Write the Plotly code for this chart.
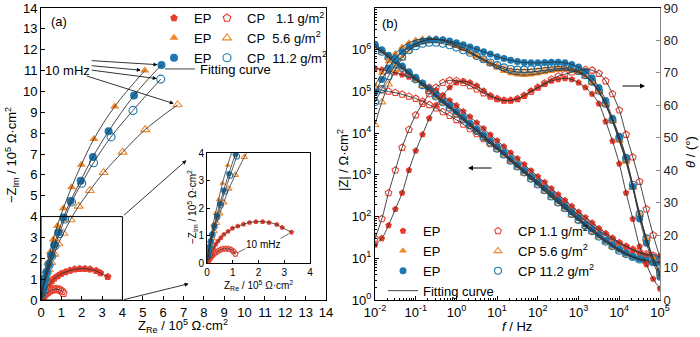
import plotly.graph_objects as go

W, H = 700, 337
def PX(p): return p / W
def PY(p): return 1 - p / H

RED, ORANGE, BLUE, FIT = "#E63E2E", "#F0872B", "#1B78B0", "#333333"
FONT = "Liberation Sans, Arial, sans-serif"

# ---------------- Nyquist data (units 1e5 ohm cm2), high -> low frequency ----------------
re_ep_red = [0.03, 0.05, 0.08, 0.11, 0.15, 0.2, 0.26, 0.34, 0.43, 0.54, 0.66, 0.82, 0.99, 1.2, 1.42, 1.65, 1.9, 2.16, 2.41, 2.71, 2.92, 3.28]
im_ep_red = [0.08, 0.13, 0.2, 0.28, 0.36, 0.45, 0.56, 0.68, 0.8, 0.92, 1.04, 1.15, 1.26, 1.34, 1.41, 1.47, 1.5, 1.5, 1.47, 1.4, 1.29, 1.12]
re_cp_red = [0.04, 0.06, 0.09, 0.13, 0.17, 0.22, 0.28, 0.35, 0.43, 0.52, 0.62, 0.73, 0.84, 0.94, 1.03, 1.1]
im_cp_red = [0.06, 0.1, 0.14, 0.19, 0.24, 0.29, 0.34, 0.39, 0.44, 0.48, 0.51, 0.52, 0.51, 0.48, 0.42, 0.33]
re_ep_orange = [0.03, 0.05, 0.08, 0.12, 0.17, 0.24, 0.33, 0.45, 0.6, 0.8, 1.1, 1.5, 1.98, 2.6, 3.62, 5.1]
im_ep_orange = [0.25, 0.38, 0.55, 0.78, 1.05, 1.4, 1.8, 2.3, 2.9, 3.55, 4.4, 5.4, 6.48, 7.72, 9.28, 11.0]
re_cp_orange = [0.06, 0.1, 0.14, 0.2, 0.28, 0.38, 0.5, 0.65, 0.85, 1.1, 1.45, 1.85, 2.4, 3.08, 4.01, 5.12, 6.71]
im_cp_orange = [0.35, 0.5, 0.68, 0.9, 1.15, 1.45, 1.8, 2.2, 2.7, 3.2, 3.85, 4.5, 5.25, 6.11, 7.09, 8.17, 9.36]
re_ep_blue = [0.04, 0.07, 0.1, 0.14, 0.2, 0.28, 0.38, 0.5, 0.65, 0.85, 1.1, 1.45, 1.95, 2.55, 3.32, 4.57, 5.92]
im_ep_blue = [0.3, 0.42, 0.6, 0.8, 1.05, 1.35, 1.72, 2.15, 2.65, 3.25, 3.95, 4.75, 5.72, 6.86, 8.09, 9.81, 11.27]
re_cp_blue = [0.04, 0.07, 0.1, 0.15, 0.21, 0.29, 0.4, 0.53, 0.69, 0.9, 1.16, 1.5, 2.0, 2.58, 3.44, 4.52, 5.88]
im_cp_blue = [0.28, 0.4, 0.57, 0.78, 1.02, 1.32, 1.68, 2.1, 2.6, 3.18, 3.88, 4.7, 5.6, 6.58, 7.82, 9.09, 10.59]

# ---------------- Bode data ----------------
freq = [0.01, 0.0147, 0.0215, 0.0316, 0.0464, 0.0681, 0.1, 0.147, 0.215, 0.316, 0.464, 0.681,
        1.0, 1.47, 2.15, 3.16, 4.64, 6.81, 10.0, 14.7, 21.5, 31.6, 46.4, 68.1,
        100, 147, 215, 316, 464, 681, 1000, 1470, 2150, 3160, 4640, 6810,
        1e4, 1.47e4, 2.15e4, 3.16e4, 4.64e4, 6.81e4, 1e5]
# log10 |Z| (ohm cm2)
logz_ep_red = [5.55, 5.52, 5.49, 5.45, 5.40, 5.35, 5.28, 5.20, 5.11, 5.02, 4.90, 4.78, 4.66, 4.52, 4.39, 4.25, 4.11, 3.96, 3.82, 3.68, 3.53, 3.39, 3.25, 3.10, 2.96, 2.82, 2.67, 2.53, 2.39, 2.25, 2.11, 1.98, 1.85, 1.72, 1.60, 1.49, 1.38, 1.29, 1.20, 1.12, 1.07, 1.04, 1.02]
logz_cp_red = [5.06, 5.03, 5.00, 4.97, 4.93, 4.88, 4.83, 4.76, 4.68, 4.60, 4.51, 4.42, 4.32, 4.21, 4.10, 3.98, 3.86, 3.74, 3.62, 3.49, 3.37, 3.24, 3.11, 2.97, 2.84, 2.70, 2.57, 2.43, 2.30, 2.16, 2.03, 1.90, 1.78, 1.66, 1.55, 1.45, 1.36, 1.28, 1.21, 1.15, 1.10, 1.07, 1.04]
logz_ep_orange = [6.08, 5.96, 5.83, 5.70, 5.57, 5.44, 5.31, 5.17, 5.04, 4.90, 4.76, 4.63, 4.49, 4.35, 4.21, 4.07, 3.93, 3.79, 3.65, 3.51, 3.36, 3.22, 3.08, 2.93, 2.79, 2.65, 2.50, 2.36, 2.22, 2.08, 1.94, 1.80, 1.67, 1.54, 1.42, 1.31, 1.20, 1.11, 1.04, 0.98, 0.94, 0.92, 0.91]
logz_cp_orange = [6.06, 5.94, 5.81, 5.68, 5.55, 5.41, 5.28, 5.14, 5.00, 4.87, 4.73, 4.59, 4.45, 4.31, 4.17, 4.03, 3.89, 3.75, 3.61, 3.47, 3.32, 3.18, 3.04, 2.89, 2.75, 2.61, 2.46, 2.32, 2.18, 2.04, 1.90, 1.77, 1.64, 1.51, 1.39, 1.28, 1.17, 1.09, 1.02, 0.96, 0.92, 0.90, 0.89]
logz_ep_blue = [6.13, 6.00, 5.87, 5.74, 5.61, 5.47, 5.34, 5.20, 5.07, 4.93, 4.79, 4.66, 4.52, 4.38, 4.24, 4.10, 3.96, 3.82, 3.68, 3.54, 3.39, 3.25, 3.11, 2.96, 2.82, 2.68, 2.53, 2.39, 2.25, 2.11, 1.97, 1.83, 1.70, 1.57, 1.44, 1.33, 1.22, 1.13, 1.05, 0.99, 0.95, 0.92, 0.91]
logz_cp_blue = [6.08, 5.95, 5.82, 5.69, 5.56, 5.42, 5.29, 5.15, 5.02, 4.88, 4.74, 4.61, 4.47, 4.33, 4.19, 4.05, 3.91, 3.77, 3.63, 3.49, 3.34, 3.20, 3.06, 2.91, 2.77, 2.63, 2.48, 2.34, 2.20, 2.06, 1.92, 1.78, 1.65, 1.52, 1.40, 1.29, 1.18, 1.10, 1.03, 0.97, 0.93, 0.91, 0.90]
# phase angle (deg)
ph_ep_red = [17, 19, 23, 28, 33, 40, 46, 51, 56, 60, 63, 65.5, 67, 67.5, 67, 66, 64.5, 63, 62, 61.5, 61.5, 62, 63, 64.5, 65.5, 66.5, 67.5, 68, 68.3, 68, 67, 65.5, 63.5, 60.5, 55, 49, 42, 33, 25, 16.5, 11, 6.5, 3.5]
ph_cp_red = [19, 25, 33, 40, 47, 52.5, 57, 60.5, 63.5, 65.5, 67, 67.7, 67.6, 67, 66, 65, 63.8, 62.8, 62, 61.5, 61.5, 62, 63, 64.2, 65.5, 66.8, 68, 69, 69.6, 70.2, 70.7, 71, 70.8, 69.8, 67.5, 63.5, 58.5, 51, 44, 36.5, 28, 20, 13]
ph_ep_orange = [66, 70, 73.5, 76, 78, 79.3, 80.1, 80.5, 80.6, 80.4, 79.9, 79.1, 78.2, 77.2, 76.1, 75, 73.8, 72.6, 71.5, 70.5, 69.8, 69.4, 69.3, 69.4, 69.7, 70.1, 70.5, 70.8, 70.9, 70.7, 70, 68.8, 66.8, 64, 60, 55, 49, 42.5, 34.5, 26, 18.5, 12.5, 7.5]
ph_cp_orange = [54, 61, 66.5, 71, 74.5, 77, 78.8, 79.8, 80.3, 80.4, 80.1, 79.5, 78.7, 77.7, 76.6, 75.4, 74.2, 73, 72, 71.2, 70.6, 70.3, 70.2, 70.3, 70.5, 70.8, 71.1, 71.3, 71.3, 71, 70.3, 69, 67, 64.2, 60.3, 55.3, 49.3, 42.8, 34.8, 26.3, 18.8, 12.8, 8]
ph_ep_blue = [64, 68, 71.5, 74.5, 76.5, 78, 79, 79.8, 80.2, 80.3, 80.2, 79.8, 79.3, 78.7, 78, 77.3, 76.5, 75.8, 75, 74.4, 73.9, 73.5, 73.2, 73.1, 73.1, 73.2, 73.3, 73.3, 73.1, 72.6, 71.8, 70.5, 68.5, 65.5, 61.5, 56, 50.5, 44, 35, 25, 17.5, 11.5, 7]
ph_cp_blue = [61, 65, 69, 72.5, 75, 77, 78.2, 79, 79.3, 79.3, 79, 78.5, 77.8, 77, 76.2, 75.2, 74.2, 73.2, 72.4, 71.7, 71.2, 71, 71, 71.1, 71.3, 71.6, 71.8, 71.9, 71.8, 71.4, 70.6, 69.3, 67.3, 64.5, 60.5, 55.5, 50, 43.5, 35.5, 26.5, 19, 13, 8.5]

x_ticks_a = list(range(0, 15))
inset_ticks = [0, 1, 2, 3, 4]
bode_x_ticks = [1e-2, 1e-1, 1e0, 1e1, 1e2, 1e3, 1e4, 1e5]
bode_x_text = ["10<sup>-2</sup>", "10<sup>-1</sup>", "10<sup>0</sup>", "10<sup>1</sup>", "10<sup>2</sup>", "10<sup>3</sup>", "10<sup>4</sup>", "10<sup>5</sup>"]
bode_y_ticks = [1e0, 1e1, 1e2, 1e3, 1e4, 1e5, 1e6, 1e7]
bode_y_text = ["10<sup>%d</sup>" % i for i in range(8)]
phase_ticks = list(range(0, 91, 10))

series = [
    # name, legend label, colour, symbol, re, im, logz, phase, filled
    ("EP", "EP", RED, "pentagon", re_ep_red, im_ep_red, logz_ep_red, ph_ep_red, True),
    ("CP 1.1", "CP\u00a0\u00a0\u00a01.1 g/m<sup>2</sup>", RED, "pentagon-open", re_cp_red, im_cp_red, logz_cp_red, ph_cp_red, False),
    ("EP", "EP", ORANGE, "triangle-up", re_ep_orange, im_ep_orange, logz_ep_orange, ph_ep_orange, True),
    ("CP 5.6", "CP\u00a0\u00a05.6 g/m<sup>2</sup>", ORANGE, "triangle-up-open", re_cp_orange, im_cp_orange, logz_cp_orange, ph_cp_orange, False),
    ("EP", "EP", BLUE, "circle", re_ep_blue, im_ep_blue, logz_ep_blue, ph_ep_blue, True),
    ("CP 11.2", "CP\u00a0\u00a011.2 g/m<sup>2</sup>", BLUE, "circle-open", re_cp_blue, im_cp_blue, logz_cp_blue, ph_cp_blue, False),
]
bode_labels = ["EP", "CP 1.1 g/m<sup>2</sup>", "EP", "CP 5.6 g/m<sup>2</sup>", "EP", "CP 11.2 g/m<sup>2</sup>"]

fig = go.Figure()

def mk(color, symbol, filled, size):
    if filled:
        return dict(color=color, symbol=symbol, size=size, line=dict(width=0))
    return dict(color=color, symbol=symbol, size=size, line=dict(width=1.1, color=color))

# Nyquist main + inset markers
for i, (nm, lab, col, sym, re, im, lz, ph, filled) in enumerate(series):
    fig.add_trace(go.Scatter(x=re, y=im, mode="markers", marker=mk(col, sym, filled, 8),
                             name=lab, legend="legend" if filled else "legend2",
                             showlegend=True, xaxis="x", yaxis="y"))
for i, (nm, lab, col, sym, re, im, lz, ph, filled) in enumerate(series):
    fig.add_trace(go.Scatter(x=re, y=im, mode="markers", marker=mk(col, sym, filled, 5.5),
                             showlegend=False, xaxis="x4", yaxis="y4"))
# Nyquist fitting curves
for i, (nm, lab, col, sym, re, im, lz, ph, filled) in enumerate(series):
    fig.add_trace(go.Scatter(x=[0] + re, y=[0] + im, mode="lines", line=dict(color=FIT, width=0.9, shape="spline"),
                             name="Fitting curve", legend="legend5", showlegend=(i == 0), xaxis="x", yaxis="y"))
    fig.add_trace(go.Scatter(x=[0] + re, y=[0] + im, mode="lines", line=dict(color=FIT, width=0.8, shape="spline"),
                             showlegend=False, xaxis="x4", yaxis="y4"))

# Bode markers
for i, (nm, lab, col, sym, re, im, lz, ph, filled) in enumerate(series):
    zvals = [10 ** v for v in lz]
    fig.add_trace(go.Scatter(x=freq, y=zvals, mode="markers", marker=mk(col, sym, filled, 7),
                             name=bode_labels[i], legend="legend3" if filled else "legend4",
                             showlegend=True, xaxis="x2", yaxis="y2"))
for i, (nm, lab, col, sym, re, im, lz, ph, filled) in enumerate(series):
    fig.add_trace(go.Scatter(x=freq, y=ph, mode="markers", marker=mk(col, sym, filled, 7),
                             showlegend=False, xaxis="x2", yaxis="y3"))
# Bode fitting curves
for i, (nm, lab, col, sym, re, im, lz, ph, filled) in enumerate(series):
    zvals = [10 ** v for v in lz]
    fig.add_trace(go.Scatter(x=freq, y=zvals, mode="lines", line=dict(color=FIT, width=0.9, shape="spline"),
                             name="Fitting curve", legend="legend3", showlegend=(i == 0), xaxis="x2", yaxis="y2"))
    fig.add_trace(go.Scatter(x=freq, y=ph, mode="lines", line=dict(color=FIT, width=0.9, shape="spline"),
                             showlegend=False, xaxis="x2", yaxis="y3"))

axcommon = dict(showline=True, linecolor="black", linewidth=1, ticks="inside", ticklen=4,
                tickcolor="black", showgrid=False, zeroline=False, automargin=False,
                tickfont=dict(size=13, color="black"))

dom_ax = [PX(41), PX(326)]
dom_y = [PY(300), PY(8)]
dom_bx = [PX(375), PX(660)]

minor_f = [m * 10 ** e for e in range(-2, 5) for m in range(2, 10)]
minor_z = [m * 10 ** e for e in range(0, 7) for m in range(2, 10)]

fig.update_layout(
    width=W, height=H, margin=dict(l=0, r=0, t=0, b=0, pad=0, autoexpand=False),
    paper_bgcolor="white", plot_bgcolor="white",
    font=dict(family=FONT, size=13, color="black"),
    xaxis=dict(domain=dom_ax, range=[0, 14], tickvals=x_ticks_a, mirror=True, anchor="y", **axcommon),
    yaxis=dict(domain=dom_y, range=[0, 14], tickvals=x_ticks_a, mirror=True, anchor="x", **axcommon),
    xaxis2=dict(domain=dom_bx, type="log", range=[-2, 5], tickvals=bode_x_ticks, ticktext=bode_x_text,
                mirror=True, anchor="y2",
                minor=dict(tickvals=minor_f, ticks="inside", ticklen=2, tickcolor="black"), **axcommon),
    yaxis2=dict(domain=dom_y, type="log", range=[0, 7], tickvals=bode_y_ticks, ticktext=bode_y_text,
                anchor="x2", minor=dict(tickvals=minor_z, ticks="inside", ticklen=2, tickcolor="black"), **axcommon),
    yaxis3=dict(domain=dom_y, range=[0, 90], tickvals=phase_ticks, overlaying="y2", side="right", anchor="x2",
                showline=True, linecolor="#8a8a8a", linewidth=1, ticks="inside", ticklen=4, tickcolor="#8a8a8a",
                showgrid=False, zeroline=False, automargin=False, tickfont=dict(size=13, color="#222")),
    xaxis4=dict(domain=[PX(207), PX(310)], range=[0, 4], tickvals=inset_ticks, mirror=True, anchor="y4",
                showline=True, linecolor="black", linewidth=1, ticks="inside", ticklen=3, tickcolor="black",
                showgrid=False, zeroline=False, automargin=False, tickfont=dict(size=10)),
    yaxis4=dict(domain=[PY(263), PY(153)], range=[0, 4], tickvals=inset_ticks, mirror=True, anchor="x4",
                showline=True, linecolor="black", linewidth=1, ticks="inside", ticklen=3, tickcolor="black",
                showgrid=False, zeroline=False, automargin=False, tickfont=dict(size=10)),
    showlegend=True,
)

leg = dict(bgcolor="rgba(0,0,0,0)", borderwidth=0, font=dict(size=13, family=FONT, color="black"),
           xanchor="left", yanchor="top", itemwidth=30, traceorder="normal", itemclick=False)
fig.update_layout(
    legend=dict(x=PX(154), y=PY(3), **leg),
    legend2=dict(x=PX(207), y=PY(3), **leg),
    legend5=dict(x=PX(160), y=PY(54), **leg),
    legend3=dict(x=PX(383), y=PY(216), **leg),
    legend4=dict(x=PX(478), y=PY(216), **leg),
)

ann = []
def txt(x, y, t, xref="paper", yref="paper", size=13, angle=0, xanchor="center", yanchor="middle"):
    ann.append(dict(x=x, y=y, xref=xref, yref=yref, text=t, showarrow=False, textangle=angle,
                    font=dict(size=size, family=FONT, color="black"), xanchor=xanchor, yanchor=yanchor))

txt(PX(12), PY(155), "\u2212Z<sub>Im</sub> / 10<sup>5</sup> \u03a9\u00b7cm<sup>2</sup>", angle=-90)
txt(PX(183), PY(326), "Z<sub>Re</sub> / 10<sup>5</sup> \u03a9\u00b7cm<sup>2</sup>")
txt(PX(343), PY(160), "|Z| / \u03a9\u00b7cm<sup>2</sup>", angle=-90)
txt(PX(690), PY(152), "<i>\u03b8</i> / (\u00b0)", angle=-90)
txt(PX(517), PY(326), "<i>f</i> / Hz")
txt(PX(258), PY(285), "Z<sub>Re</sub> / 10<sup>5</sup> \u03a9\u00b7cm<sup>2</sup>", size=10)
txt(PX(192), PY(207), "\u2212Z<sub>Im</sub> / 10<sup>5</sup> \u03a9\u00b7cm<sup>2</sup>", size=10, angle=-90)
txt(PX(49), PY(21), "(a)", xanchor="left")
txt(PX(380), PY(23), "(b)", xanchor="left")
txt(1.29, 11.0, "10 mHz", xref="x", yref="y")
txt(2.18, 0.66, "10 mHz", xref="x4", yref="y4", size=10)

def arrow(x, y, ax, ay, xref, yref, head=2, standoff=4, width=0.8):
    ann.append(dict(x=x, y=y, ax=ax, ay=ay, xref=xref, yref=yref, axref=xref, ayref=yref, text="",
                    showarrow=True, arrowhead=head, arrowsize=1, arrowwidth=width, arrowcolor="black",
                    standoff=standoff))

# 10 mHz pointers (main Nyquist)
arrow(re_ep_blue[-1], im_ep_blue[-1], 2.42, 11.48, "x", "y")
arrow(re_ep_orange[-1], im_ep_orange[-1], 2.42, 11.24, "x", "y")
arrow(re_cp_blue[-1], im_cp_blue[-1], 2.42, 11.03, "x", "y")
arrow(re_cp_orange[-1], im_cp_orange[-1], 2.18, 10.76, "x", "y")
# zoom pointers
arrow(7.14, 6.70, 4, 4, "x", "y", standoff=0)
arrow(7.25, 0.78, 4, 0, "x", "y", standoff=0)
# inset 10 mHz leader lines
arrow(re_ep_red[-1], im_ep_red[-1], 2.8, 0.86, "x4", "y4", head=0, standoff=3, width=0.6)
arrow(re_cp_red[-1], im_cp_red[-1], 1.55, 0.55, "x4", "y4", head=0, standoff=3, width=0.6)

# Bode axis direction arrows (paper)
ann.append(dict(x=PX(645), y=PY(86), xref="paper", yref="paper", ax=-24, ay=0, text="", showarrow=True,
                arrowhead=2, arrowwidth=1, arrowcolor="black"))
ann.append(dict(x=PX(468), y=PY(168), xref="paper", yref="paper", ax=25, ay=0, text="", showarrow=True,
                arrowhead=2, arrowwidth=1, arrowcolor="black"))

fig.update_layout(annotations=ann,
                  shapes=[dict(type="rect", xref="x", yref="y", x0=0, y0=0, x1=4, y1=4,
                               line=dict(color="black", width=1))])

fig.write_html("out.html")
